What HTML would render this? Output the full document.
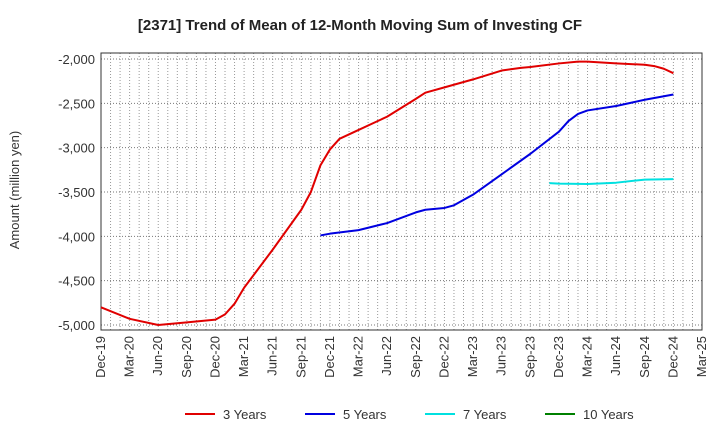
<!DOCTYPE html>
<html><head><meta charset="utf-8"><style>
body{margin:0;background:#fff;font-family:"Liberation Sans",sans-serif}
</style></head><body>
<svg id="c" width="720" height="440" xmlns="http://www.w3.org/2000/svg" font-family="Liberation Sans, sans-serif"></svg>
<script>
const xLabels=["Dec-19","Mar-20","Jun-20","Sep-20","Dec-20","Mar-21","Jun-21","Sep-21","Dec-21","Mar-22","Jun-22","Sep-22","Dec-22","Mar-23","Jun-23","Sep-23","Dec-23","Mar-24","Jun-24","Sep-24","Dec-24","Mar-25"];
const yTicks=[-2000,-2500,-3000,-3500,-4000,-4500,-5000];
const s3m=[0,3,6,9,12,13,14,15,18,21,22,23,24,25,27,30,33,34,36,39,42,44,45,48,50,51,54,57,58,59,60];
const s3v=[-4800,-4930,-5000,-4970,-4940,-4880,-4760,-4580,-4150,-3700,-3500,-3200,-3020,-2900,-2800,-2650,-2450,-2380,-2320,-2230,-2130,-2100,-2090,-2050,-2030,-2030,-2050,-2065,-2080,-2110,-2160];
const s5m=[23,24,27,30,33,34,36,37,39,42,45,48,49,50,51,54,57,60];
const s5v=[-3990,-3970,-3930,-3850,-3730,-3700,-3680,-3650,-3530,-3300,-3070,-2820,-2700,-2620,-2580,-2530,-2460,-2400];
const s7m=[47,48,51,54,57,60];
const s7v=[-3400,-3405,-3410,-3395,-3360,-3355];
const L=101,R=702,T=53,B=330;
const X=m=>L+m*(R-L)/63;
const Y=v=>59+(-2000-v)*(325-59)/3000;
const svg=document.getElementById('c');const NS="http://www.w3.org/2000/svg";
function el(t,a,p){const e=document.createElementNS(NS,t);for(const k in a)e.setAttribute(k,a[k]);(p||svg).appendChild(e);return e;}
let t=el('text',{x:360,y:30,'text-anchor':'middle','font-size':15,'font-weight':'bold',fill:'#222'});t.textContent='[2371]  Trend of Mean of 12-Month Moving Sum of Investing CF';

for(let m=1;m<63;m++){let g=el('line',{x1:X(m),x2:X(m),y1:T,y2:B,stroke:'#999','stroke-dasharray':'1,2','stroke-width':1});}
yTicks.forEach(v=>{let g=el('line',{x1:L,x2:R,y1:Y(v),y2:Y(v),stroke:'#777','stroke-dasharray':'1,2'});
let tx=el('text',{x:L-6,y:Y(v)+5,'text-anchor':'end','font-size':13,fill:'#333'});tx.textContent=v.toLocaleString('en-US');});
let fr=el('rect',{x:L,y:T,width:R-L,height:B-T,fill:'none',stroke:'#333'});
xLabels.forEach((s,i)=>{const x=X(i*3);let tx=el('text',{transform:`translate(${x+4},${B+6}) rotate(-90)`,'text-anchor':'end','font-size':13,fill:'#333'});tx.textContent=s;});
let yt=el('text',{transform:'translate(19,190) rotate(-90)','text-anchor':'middle','font-size':13,fill:'#333'});yt.textContent='Amount (million yen)';
function line(ms,vs,c,n){let p=el('polyline',{points:ms.map((m,i)=>X(m)+','+Y(vs[i])).join(' '),fill:'none',stroke:c,'stroke-width':2,'stroke-linejoin':'round'});}
line(s3m,s3v,'#e00000','series-3-years');line(s5m,s5v,'#0000e0','series-5-years');line(s7m,s7v,'#00e0e0','series-7-years');
[['3 Years','#e00000',185],['5 Years','#0000e0',305],['7 Years','#00e0e0',425],['10 Years','#008000',545]].forEach(([n,c,x])=>{
let g=el('g',{});
el('line',{x1:x,x2:x+30,y1:414,y2:414,stroke:c,'stroke-width':2},g);
let tx=el('text',{x:x+38,y:419,'font-size':13,fill:'#333'},g);tx.textContent=n;});
</script>
</body></html>
